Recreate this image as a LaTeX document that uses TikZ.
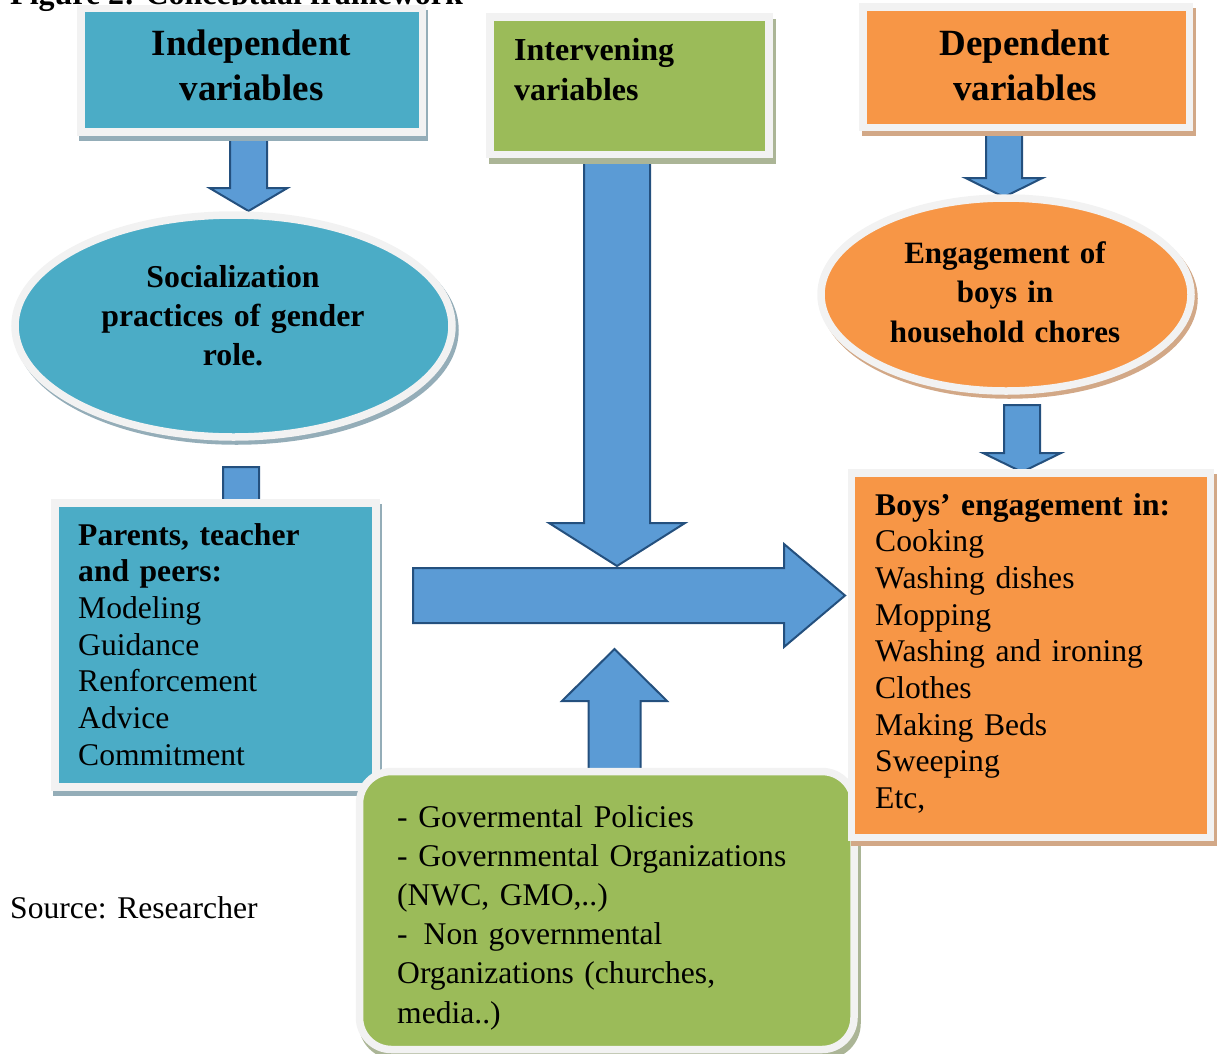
\documentclass[tikz,border=0pt]{standalone}
\usepackage{fontspec}
\setmainfont{Liberation Serif}
\usetikzlibrary{calc,shapes.geometric,shadows}

\definecolor{tealfill}{HTML}{4BACC6}
\definecolor{greenfill}{HTML}{9BBB59}
\definecolor{orangefill}{HTML}{F79646}
\definecolor{framegray}{HTML}{F2F2F2}
\definecolor{tealshade}{HTML}{94ADB8}
\definecolor{greenshade}{HTML}{ABB596}
\definecolor{orangeshade}{HTML}{D2A887}
\definecolor{arrowfill}{HTML}{5B9BD5}
\definecolor{arrowline}{HTML}{24507E}

% block arrow from tail #1 to tip #2: half shaft width #3, half head width #4, head length #5
\newcommand{\blockarrow}[5]{%
  \coordinate (hb) at ($(#2)!#5pt!(#1)$);
  \draw[barrow] ($(#1)!#3pt!90:(#2)$) -- ($(hb)!#3pt!90:(#2)$) -- ($(hb)!#4pt!90:(#2)$)
    -- (#2) -- ($(hb)!#4pt!-90:(#2)$) -- ($(hb)!#3pt!-90:(#2)$) -- ($(#1)!#3pt!-90:(#2)$) -- cycle;
}

\tikzset{
  panel/.style={draw=framegray, line width=7.5pt, inner sep=0pt, outer sep=0pt},
  tealpanel/.style={panel, fill=tealfill,
    general shadow={shadow xshift=2pt, shadow yshift=-5pt, fill=tealshade, draw=tealshade, line width=7.5pt}},
  greenpanel/.style={panel, fill=greenfill,
    general shadow={shadow xshift=3pt, shadow yshift=-6pt, fill=greenshade, draw=greenshade, line width=7.5pt}},
  orangepanel/.style={panel, fill=orangefill,
    general shadow={shadow xshift=3pt, shadow yshift=-5pt, fill=orangeshade, draw=orangeshade, line width=7.5pt}},
  barrow/.style={fill=arrowfill, draw=arrowline, line width=2pt, line join=miter},
  headtext/.style={inner sep=0pt, anchor=base, align=center, text width=330pt,
    font=\bfseries\fontsize{37}{45}\selectfont},
  listtext/.style={inner sep=0pt, anchor=base west, align=left, text width=#1,
    font=\fontsize{31.6}{36.7}\selectfont},
}

\begin{document}
\begin{tikzpicture}[x=1pt, y=-1pt]
\useasboundingbox (0,0) rectangle (1220,1053);
\clip (0,0) rectangle (1220,1053);

% caption line at the top edge
\node[inner sep=0pt, anchor=base west, font=\bfseries\fontsize{32}{38}\selectfont]
  (caption) at (10,4) {Figure 2: Conceptual framework};

% arrow end points
\coordinate (a1s) at (248.5,137);  \coordinate (a1e) at (248.5,211);
\coordinate (a2s) at (241,467);    \coordinate (a2e) at (241,530);
\coordinate (a3s) at (617,156);    \coordinate (a3e) at (617,566);
\coordinate (a4s) at (413,595.5);  \coordinate (a4e) at (845,595.5);
\coordinate (a5s) at (614.5,780);  \coordinate (a5e) at (614.5,649);
\coordinate (a6s) at (1004,130);   \coordinate (a6e) at (1004,197);
\coordinate (a7s) at (1022,405);   \coordinate (a7e) at (1022,472);

\blockarrow{a1s}{a1e}{18.5}{39}{23}
\blockarrow{a2s}{a2e}{18}{38}{22}
\blockarrow{a3s}{a3e}{33}{68}{43}
\blockarrow{a4s}{a4e}{27.5}{51.5}{61}
\blockarrow{a5s}{a5e}{26}{52.5}{52}
\blockarrow{a6s}{a6e}{18}{38.5}{19}
\blockarrow{a7s}{a7e}{18}{39}{19}

% independent side
\node[tealpanel, minimum width=341.5, minimum height=123.5] (indep) at (251.75,70.25) {};
\node[headtext] (indeptxt) at (251.5,55) {Independent\\variables};

\node[panel, ellipse, fill=tealfill, minimum width=437, minimum height=222,
  general shadow={shadow xshift=3pt, shadow yshift=-4pt, fill=tealshade, draw=tealshade, line width=7.5pt}]
  (social) at (233.5,326) {};
\node[inner sep=0pt, anchor=base, align=center, text width=330pt,
  font=\bfseries\fontsize{31.8}{39}\selectfont] (socialtxt) at (233,287)
  {Socialization\\practices of gender\\role.};

\node[tealpanel, minimum width=321, minimum height=284] (agents) at (215.5,645) {};
\node[listtext=300pt] (agentstxt) at (78,545)
  {\textbf{Parents, teacher}\\\textbf{and peers:}\\Modeling\\Guidance\\Renforcement\\Advice\\Commitment};

% intervening side
\node[greenpanel, minimum width=279, minimum height=137.5] (interv) at (629.5,85.75) {};
\node[inner sep=0pt, anchor=base west, align=left, text width=250pt,
  font=\bfseries\fontsize{32}{40}\selectfont] (intervtxt) at (514,60) {Intervening\\variables};

\node[greenpanel, rounded corners=32pt, minimum width=494.5, minimum height=278] (agencies) at (606.75,910.5) {};
\node[inner sep=0pt, anchor=base west, align=left, text width=450pt,
  font=\fontsize{31.6}{39.2}\selectfont] (agenciestxt) at (397,827)
  {- Govermental Policies\\- Governmental Organizations\\(NWC, GMO,..)\\-\hspace{16pt}Non governmental\\Organizations (churches,\\media..)};

% dependent side
\node[orangepanel, minimum width=326.5, minimum height=120.5] (dep) at (1026.25,67.25) {};
\node[headtext] (deptxt) at (1025,55) {Dependent\\variables};

\node[panel, ellipse, fill=orangefill, minimum width=370, minimum height=193,
  general shadow={shadow xshift=3pt, shadow yshift=-4pt, fill=orangeshade, draw=orangeshade, line width=7.5pt}]
  (engage) at (1006,294.5) {};
\node[inner sep=0pt, anchor=base, align=center, text width=330pt,
  font=\bfseries\fontsize{31}{39.5}\selectfont] (engagetxt) at (1005,263)
  {Engagement of\\boys in\\household chores};

\node[orangepanel, minimum width=359, minimum height=364.5] (chores) at (1031,655.25) {};
\node[listtext=330pt] (chorestxt) at (875,515)
  {\textbf{Boys’ engagement in:}\\Cooking\\Washing dishes\\Mopping\\Washing and ironing\\Clothes\\Making Beds\\Sweeping\\Etc,};

\node[inner sep=0pt, anchor=base west, font=\fontsize{31.6}{38}\selectfont] (source) at (10,918) {Source: Researcher};
\end{tikzpicture}
\end{document}
